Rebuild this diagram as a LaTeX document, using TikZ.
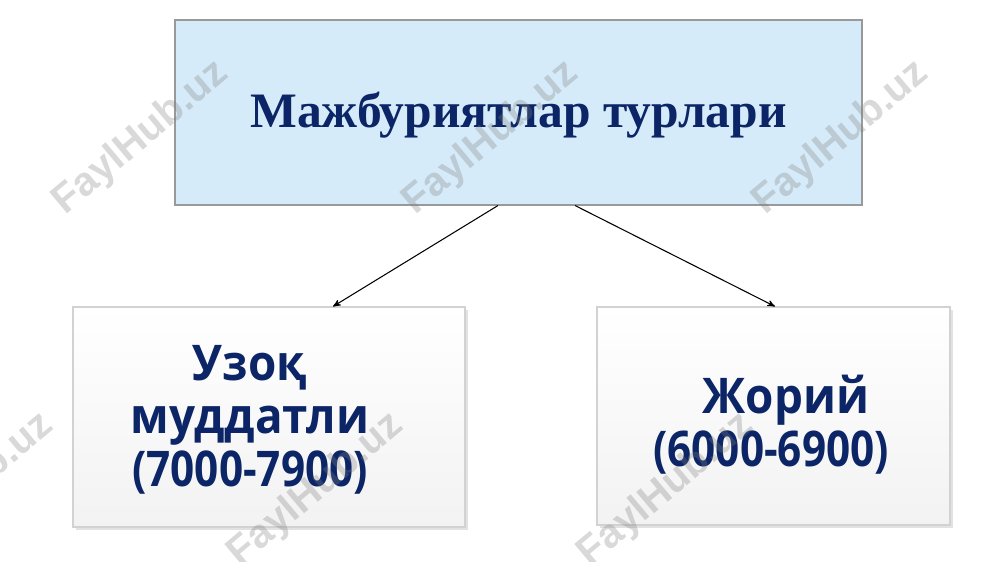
\documentclass[tikz,border=0pt]{standalone}
\usepackage{fontspec}
\setmainfont{Liberation Serif}
\newfontfamily\turlsans[FakeStretch=0.86]{Open Sans}
\newfontfamily\turlcyr[FakeStretch=0.93]{Open Sans}
\newfontfamily\wmsans{Liberation Sans}
\usepackage{xcolor}
\usepackage{tikz}
\usetikzlibrary{arrows,shadows}
\usetikzlibrary{positioning}
\definecolor{turlblue}{HTML}{0B2566}
\definecolor{turlfill}{HTML}{D6EBF9}
\tikzset{
  turl_t/.style = {rectangle, draw=gray!80, fill=turlfill,
    minimum width=13.74cm, minimum height=3.7cm},% boite du titre
  turl_b/.style = {rectangle, draw=gray!35, top color=white,
    bottom color=gray!10, drop shadow={shadow xshift=1.5pt,
    shadow yshift=-1.5pt, fill=gray!45}},% boite du bas
  turl_txt/.style = {align=center, text=turlblue, inner sep=0pt,
    font=\turlsans\bfseries\fontsize{28}{30}\selectfont},
  turl_wm/.style = {text=gray, opacity=0.3, rotate=40,
    font=\wmsans\bfseries\fontsize{23}{23}\selectfont}% filigrane
}
\newcommand{\cyr}[1]{{\turlcyr\bfseries #1}}

\begin{document}
\begin{tikzpicture}[->,>=stealth',line width=0.6pt]
\useasboundingbox (0,0) rectangle (20,11.24);

\node [turl_t] (title) at (10.37,8.99) {};
\node at (title) [yshift=-0.05cm, text=turlblue, font=\bfseries\fontsize{28.2}{30}\selectfont]
  (titletxt) {Мажбуриятлар турлари};
\node [turl_b, minimum width=7.84cm, minimum height=4.4cm] (long) at (5.38,2.9) {};
\node [turl_b, minimum width=7.06cm, minimum height=4.36cm] (curr) at (15.47,2.92) {};

\node at (long) [turl_txt, xshift=-0.38cm, yshift=-0.06cm] (longtxt)
  {\cyr{Узоқ}\\\cyr{муддатли}\\(7000-7900)};
\node at (curr) [turl_txt, xshift=-0.05cm, yshift=-0.18cm] (currtxt)
  {\hspace*{0.6cm}\cyr{Жорий}\\(6000-6900)};

\draw ([xshift=-0.41cm]title.south) -- ([xshift=1.28cm]long.north);
\draw ([xshift=1.13cm]title.south) -- ([xshift=0.03cm]curr.north);

%% filigrane
\foreach \x/\y in {2.82/8.48, 9.82/8.48, 16.82/8.48, -0.68/1.44, 6.32/1.44, 13.32/1.44}
  \node [turl_wm] at (\x,\y) {FaylHub.uz};
\end{tikzpicture}
\end{document}
